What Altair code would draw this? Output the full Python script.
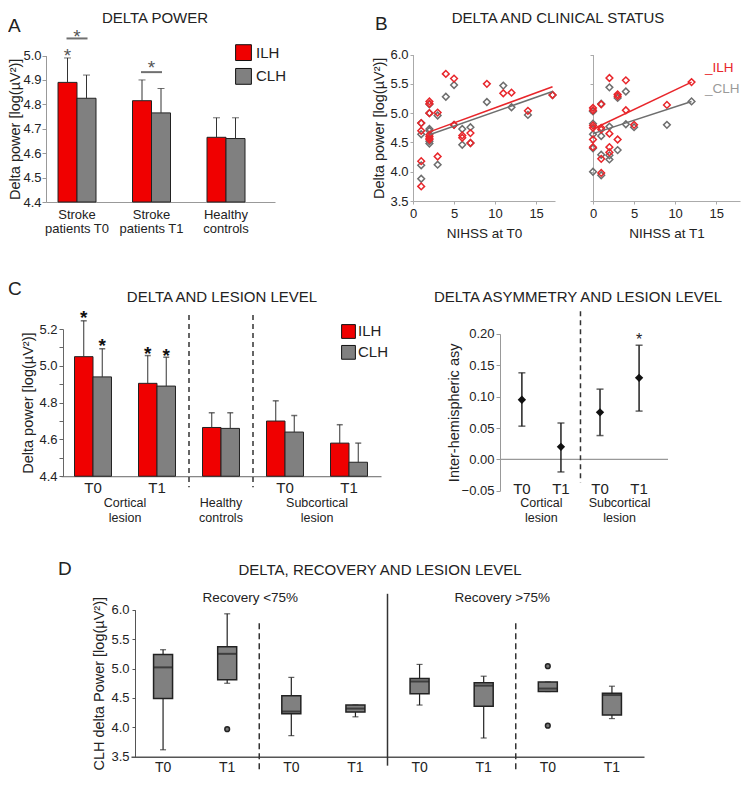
import altair as alt
import pandas as pd

# ======================= DATA =======================
# ---- Panel A : delta power ----
A_groups = ["Stroke|patients T0", "Stroke|patients T1", "Healthy|controls"]
hemis = ["ILH", "CLH"]
A_ilh_mean = [4.89, 4.815, 4.665]
A_ilh_upper = [4.99, 4.90, 4.745]
A_clh_mean = [4.825, 4.765, 4.66]
A_clh_upper = [4.92, 4.865, 4.745]
A_star_group = ["Stroke|patients T0"]
A_star_value = [5.02]
A_bracket_group = ["Stroke|patients T0", "Stroke|patients T1"]
A_bracket_value = [5.07, 4.932]
A_bracket_star = [5.097, 4.971]

# ---- Panel B : delta vs NIHSS ----
B0_ilh_nihss = [1, 1, 1, 1, 2, 2, 2, 2, 2, 2, 2, 3, 3, 4, 5, 5, 6, 6, 7, 7, 9, 11, 12, 14, 17]
B0_ilh_power = [4.83, 4.70, 4.18, 3.75, 5.20, 5.16, 5.00, 4.63, 4.60, 4.57, 4.55, 5.01, 4.26,
                5.67, 5.59, 4.80, 4.62, 4.58, 4.66, 4.49, 5.50, 5.34, 5.35, 5.04, 5.31]
B0_clh_nihss = [1, 1, 1, 1, 2, 2, 2, 2, 2, 2, 3, 3, 4, 5, 5, 6, 6, 7, 7, 9, 11, 12, 14, 17]
B0_clh_power = [4.83, 4.64, 4.11, 3.88, 5.15, 5.00, 4.73, 4.70, 4.52, 4.48, 4.96, 4.12, 5.28,
                5.48, 4.80, 4.73, 4.46, 4.76, 4.49, 5.19, 5.47, 5.10, 4.97, 5.31]
B1_ilh_nihss = [0, 0, 0, 0, 0, 0, 1, 1, 1, 1, 1, 2, 2, 2, 2, 3, 3, 3, 4, 4, 5, 9, 12]
B1_ilh_power = [5.09, 5.05, 4.79, 4.75, 4.55, 4.42, 5.15, 4.75, 4.72, 4.22, 3.98, 5.60, 4.65,
                4.42, 4.33, 5.32, 5.29, 4.55, 5.56, 5.05, 4.80, 5.14, 5.53]
B1_clh_nihss = [0, 0, 0, 0, 0, 1, 1, 1, 1, 2, 2, 2, 2, 3, 3, 4, 4, 5, 9, 12]
B1_clh_power = [5.03, 4.82, 4.64, 4.40, 4.00, 5.16, 4.61, 4.29, 3.94, 5.44, 4.77, 4.28, 4.21,
                5.26, 4.37, 5.37, 4.81, 4.76, 4.80, 5.20]
B0_fit_x = [2, 17]
B0_fit_ilh = [4.68, 5.45]
B0_fit_clh = [4.63, 5.37]
B1_fit_x = [0, 12]
B1_fit_ilh = [4.73, 5.53]
B1_fit_clh = [4.65, 5.20]

# ---- Panel C : lesion level ----
C_groups = ["Cortical T0", "Cortical T1", "Healthy controls", "Subcortical T0", "Subcortical T1"]
C_ilh_mean = [5.05, 4.905, 4.665, 4.70, 4.58]
C_ilh_upper = [5.245, 5.056, 4.745, 4.81, 4.68]
C_clh_mean = [4.94, 4.89, 4.66, 4.64, 4.476]
C_clh_upper = [5.093, 5.047, 4.745, 4.73, 4.58]
C_star_group = ["Cortical T0", "Cortical T0", "Cortical T1", "Cortical T1"]
C_star_hemi = ["ILH", "CLH", "ILH", "CLH"]
C_star_value = [5.29, 5.135, 5.09, 5.08]

C2_groups = ["Cortical T0", "Cortical T1", "Subcortical T0", "Subcortical T1"]
C2_asym = [0.095, 0.02, 0.075, 0.13]
C2_lower = [0.053, -0.02, 0.038, 0.077]
C2_upper = [0.138, 0.058, 0.112, 0.182]
C2_star_group = ["Subcortical T1"]
C2_star_value = [0.197]

# ---- Panel D : recovery and lesion level (CLH) ----
D_groups = ["<75% cortical T0", "<75% cortical T1", "<75% subcortical T0", "<75% subcortical T1",
            ">75% cortical T0", ">75% cortical T1", ">75% subcortical T0", ">75% subcortical T1"]
D_min = [3.62, 4.75, 3.86, 4.18, 4.38, 3.82, 4.61, 4.15]
D_q1 = [4.49, 4.81, 4.23, 4.26, 4.57, 4.36, 4.61, 4.21]
D_median = [5.02, 5.25, 4.27, 4.32, 4.78, 4.71, 4.66, 4.55]
D_q3 = [5.24, 5.37, 4.54, 4.38, 4.83, 4.76, 4.77, 4.58]
D_max = [5.32, 5.93, 4.85, 4.38, 5.07, 4.87, 4.77, 4.70]
D_out_group = [D_groups[1], D_groups[6], D_groups[6]]
D_out_value = [3.97, 5.04, 4.03]

# ======================= LAYOUT / STYLE =======================
PADL = 8
OX = 8 + PADL          # page x of the plot origin
W, H = 726, 770        # svg = 734 x 770, fits the page without scaling
VS = 0.97              # slight vertical squeeze so the whole figure fits
FONT = "Liberation Sans"
TXT = "#222222"
RED = "#f00000"
GRAY = "#808080"
SRED = "#e8262b"
SGRAY = "#6e6e6e"


def px(v):
    return v - OX


def py(v):
    return (v - 4) * VS


def xbottom(page_y, **kw):
    base = dict(orient="bottom", offset=py(page_y) - H, grid=False, title=None, labelAngle=0)
    base.update(kw)
    return alt.Axis(**base)


def yleft(page_x, **kw):
    base = dict(orient="left", offset=-px(page_x), grid=False)
    base.update(kw)
    return alt.Axis(**base)


def ydat(v, scale):
    return alt.YDatum(datum=v, scale=scale, axis=None, type="quantitative")


def text_at(text, x, y, size=15, align="center", color=TXT, weight="normal"):
    return alt.Chart(pd.DataFrame({"t": [text]})).mark_text(
        fontSize=size, align=align, baseline="middle", color=color, fontWeight=weight, font=FONT
    ).encode(text="t:N", x=alt.value(px(x)), y=alt.value(py(y)))


# Every layer sits directly in one top-level layer with independent scales;
# the layers of a panel use identical explicit scales, so they line up.

# ======================= PANEL A =======================
dfA = pd.DataFrame({"group": A_groups * 2, "hemi": ["ILH"] * 3 + ["CLH"] * 3,
                    "mean": A_ilh_mean + A_clh_mean, "upper": A_ilh_upper + A_clh_upper})
sxA = alt.Scale(type="band", domain=A_groups, range=[px(46), px(275)], paddingInner=0.49,
                paddingOuter=0.282, align=0.286)
syA = alt.Scale(domain=[4.4, 5.0], range=[py(204), py(53)], nice=False, zero=False)
soA = alt.Scale(type="band", domain=hemis, paddingInner=0, paddingOuter=0)
scol_bar = alt.Scale(domain=hemis, range=[RED, GRAY])

axA_x = xbottom(204, labelExpr="split(datum.label, '|')", ticks=False, domainColor="#999",
                labelFontSize=13, labelPadding=6, labelLineHeight=14)
axA_y = yleft(46, values=[4.4, 4.5, 4.6, 4.7, 4.8, 4.9, 5.0], format=".1f", tickSize=4,
              domainColor="#999", tickColor="#999", labelFontSize=13, labelPadding=1,
              title="Delta power [log(µV²)]", titleFontSize=14.5, titlePadding=0)


def xA(axis=None, **kw):
    return alt.X("group:N", scale=sxA, axis=axis, **kw)


def yA(field, axis=None):
    return alt.Y(field, scale=syA, axis=axis)


oA = alt.XOffset("hemi:N", scale=soA)

a_bars = alt.Chart(dfA).mark_bar(stroke="#222", strokeWidth=1).encode(
    x=xA(axA_x), xOffset=oA, y=yA("mean:Q", axA_y), y2=alt.datum(4.4),
    color=alt.Color("hemi:N", scale=scol_bar, legend=None),
)
a_err = alt.Chart(dfA).mark_rule(color="#333", strokeWidth=1).encode(
    x=xA(), xOffset=oA, y=yA("mean:Q"), y2="upper:Q")
a_cap = alt.Chart(dfA).mark_tick(color="#333", thickness=1, size=7).encode(
    x=xA(), xOffset=oA, y=yA("upper:Q"))
dfA_star = pd.DataFrame({"group": A_star_group, "hemi": ["ILH"], "v": A_star_value})
a_star = alt.Chart(dfA_star).mark_text(text="*", fontSize=19, color="#555", dy=5).encode(
    x=xA(), xOffset=oA, y=yA("v:Q"))
dfA_br = pd.DataFrame({"group": A_bracket_group, "v": A_bracket_value, "s": A_bracket_star})
a_br = alt.Chart(dfA_br).mark_tick(color="#333", thickness=2, size=21).encode(x=xA(), y=yA("v:Q"))
a_brs = alt.Chart(dfA_br).mark_text(text="*", fontSize=19, color="#555", dy=5).encode(x=xA(), y=yA("s:Q"))

dfLeg = pd.DataFrame({"hemi": hemis})
sLegA = alt.Scale(type="point", domain=hemis, range=[py(50), py(74.5)], padding=0)
legA_sq = alt.Chart(dfLeg).mark_square(size=250, stroke="#111", strokeWidth=1, opacity=1).encode(
    x=alt.value(px(243.5)), y=alt.Y("hemi:N", scale=sLegA, axis=None),
    color=alt.Color("hemi:N", scale=scol_bar, legend=None))
legA_tx = alt.Chart(dfLeg).mark_text(fontSize=15, align="left", baseline="middle", color=TXT).encode(
    x=alt.value(px(256)), y=alt.Y("hemi:N", scale=sLegA, axis=None), text="hemi:N")

layersA = [a_bars, a_err, a_cap, a_star, a_br, a_brs, legA_sq, legA_tx]

# ======================= PANEL B =======================
scol_sc = alt.Scale(domain=hemis, range=[SRED, SGRAY])


def scatter_panel(ilh_x, ilh_y, clh_x, clh_y, fit_x, fit_ilh, fit_clh, x_left, x_right, xmax, title, show_y):
    df = pd.DataFrame({"nihss": clh_x + ilh_x, "power": clh_y + ilh_y,
                       "hemi": ["CLH"] * len(clh_x) + ["ILH"] * len(ilh_x)})
    dfl = pd.DataFrame({"nihss": fit_x + fit_x, "power": fit_clh + fit_ilh,
                        "hemi": ["CLH"] * len(fit_x) + ["ILH"] * len(fit_x)})
    sx = alt.Scale(domain=[0, xmax], range=[px(x_left), px(x_right)], nice=False, zero=False)
    sy = alt.Scale(domain=[3.5, 6.0], range=[py(203), py(52)], nice=False, zero=False)
    ax_x = xbottom(203, values=[0, 5, 10, 15], tickSize=3, domainColor="#aaa", tickColor="#aaa",
                   labelFontSize=13, labelPadding=3, labelFlush=False, title=title,
                   titleFontSize=13.5, titlePadding=6)
    if show_y:
        ax_y = yleft(x_left, values=[3.5, 4.0, 4.5, 5.0, 5.5, 6.0], format=".1f", tickSize=3,
                     domainColor="#aaa", tickColor="#aaa", labelFontSize=13, labelPadding=2,
                     title="Delta power [log(µV²)]", titleFontSize=14.5, titlePadding=3)
    else:
        ax_y = yleft(x_left, values=[3.5, 4.0, 4.5, 5.0, 5.5, 6.0], labels=False, tickSize=3,
                     domainColor="#aaa", tickColor="#aaa", title=None)
    pts = alt.Chart(df).mark_point(shape="diamond", filled=False, size=45, strokeWidth=1.5, opacity=1).encode(
        x=alt.X("nihss:Q", scale=sx, axis=ax_x),
        y=alt.Y("power:Q", scale=sy, axis=ax_y),
        color=alt.Color("hemi:N", scale=scol_sc, legend=None),
    )
    lines = alt.Chart(dfl).mark_line(strokeWidth=1.5).encode(
        x=alt.X("nihss:Q", scale=sx, axis=None),
        y=alt.Y("power:Q", scale=sy, axis=None),
        color=alt.Color("hemi:N", scale=scol_sc, legend=None),
    )
    return [pts, lines]


layersB = scatter_panel(B0_ilh_nihss, B0_ilh_power, B0_clh_nihss, B0_clh_power,
                        B0_fit_x, B0_fit_ilh, B0_fit_clh, 413, 555, 17.3, "NIHSS at T0", True)
layersB += scatter_panel(B1_ilh_nihss, B1_ilh_power, B1_clh_nihss, B1_clh_power,
                         B1_fit_x, B1_fit_ilh, B1_fit_clh, 593, 740, 17.9, "NIHSS at T1", False)

# ======================= PANEL C (left) =======================
dfC = pd.DataFrame({"group": C_groups * 2, "hemi": ["ILH"] * 5 + ["CLH"] * 5,
                    "mean": C_ilh_mean + C_clh_mean, "upper": C_ilh_upper + C_clh_upper})
sxC = alt.Scale(type="band", domain=C_groups, range=[px(61), px(381)], paddingInner=0, paddingOuter=0)
syC = alt.Scale(domain=[4.4, 5.2], range=[py(486.7), py(335)], nice=False, zero=False)
soC = alt.Scale(type="band", domain=hemis, paddingInner=0, paddingOuter=0.73)
axC_x = xbottom(486.7, labelExpr="indexof(datum.value, 'Healthy') >= 0 ? '' : slice(datum.value, -2)",
                ticks=False, domainColor="#666", labelFontSize=15, labelPadding=4)
axC_y = yleft(63, values=[4.4, 4.5, 4.6, 4.7, 4.8, 4.9, 5.0, 5.1, 5.2],
              labelExpr="round(datum.value * 10) % 2 == 0 ? format(datum.value, '.1f') : ''",
              tickSize=4, domainColor="#666", tickColor="#666", labelFontSize=13, labelPadding=2,
              title="Delta power [log(µV²)]", titleFontSize=14.5, titlePadding=3)


def xC(axis=None, **kw):
    return alt.X("group:N", scale=sxC, axis=axis, **kw)


def yC(field, axis=None):
    return alt.Y(field, scale=syC, axis=axis)


oC = alt.XOffset("hemi:N", scale=soC)

c_bars = alt.Chart(dfC).mark_bar(stroke="#222", strokeWidth=1).encode(
    x=xC(axC_x), xOffset=oC, y=yC("mean:Q", axC_y), y2=alt.datum(4.4),
    color=alt.Color("hemi:N", scale=scol_bar, legend=None),
)
c_err = alt.Chart(dfC).mark_rule(color="#333", strokeWidth=1).encode(
    x=xC(), xOffset=oC, y=yC("mean:Q"), y2="upper:Q")
c_cap = alt.Chart(dfC).mark_tick(color="#333", thickness=1.5, size=6).encode(
    x=xC(), xOffset=oC, y=yC("upper:Q"))
dfC_star = pd.DataFrame({"group": C_star_group, "hemi": C_star_hemi, "v": C_star_value})
c_star = alt.Chart(dfC_star).mark_text(text="*", fontSize=19, fontWeight="bold", color="#111", dy=5).encode(
    x=xC(), xOffset=oC, y=yC("v:Q"))
dfC_sep = pd.DataFrame({"group": ["Healthy controls", "Subcortical T0"]})
c_sep = alt.Chart(dfC_sep).mark_rule(color="#333", strokeWidth=1.5, strokeDash=[5, 4]).encode(
    x=xC(bandPosition=0), y=ydat(5.277, syC), y2=alt.Y2Datum(datum=4.34))
dfC_lab = pd.DataFrame({"group": ["Cortical T0", "Subcortical T0"], "t": ["Cortical|lesion", "Subcortical|lesion"]})
c_lab = alt.Chart(dfC_lab).mark_text(fontSize=12.5, baseline="top", lineBreak="|", lineHeight=15, color=TXT).encode(
    x=xC(bandPosition=1.0), y=alt.value(py(508)), text="t:N")
dfC_lab2 = pd.DataFrame({"group": ["Healthy controls"], "t": ["Healthy|controls"]})
c_lab2 = alt.Chart(dfC_lab2).mark_text(fontSize=12.5, baseline="top", lineBreak="|", lineHeight=15, color=TXT).encode(
    x=xC(), y=alt.value(py(508)), text="t:N")

sLegC = alt.Scale(type="point", domain=hemis, range=[py(337.5), py(359)], padding=0)
legC_sq = alt.Chart(dfLeg).mark_square(size=190, stroke="#111", strokeWidth=1, opacity=1).encode(
    x=alt.value(px(348.5)), y=alt.Y("hemi:N", scale=sLegC, axis=None),
    color=alt.Color("hemi:N", scale=scol_bar, legend=None))
legC_tx = alt.Chart(dfLeg).mark_text(fontSize=15, align="left", baseline="middle", color=TXT).encode(
    x=alt.value(px(358)), y=alt.Y("hemi:N", scale=sLegC, axis=None), text="hemi:N")

layersC1 = [c_bars, c_err, c_cap, c_star, c_sep, c_lab, c_lab2, legC_sq, legC_tx]

# ======================= PANEL C (right) =======================
dfC2 = pd.DataFrame({"group": C2_groups, "v": C2_asym, "lo": C2_lower, "hi": C2_upper})
sxC2 = alt.Scale(type="band", domain=C2_groups, range=[px(500), px(668)], paddingInner=0,
                 paddingOuter=0.15, align=0.2)
syC2 = alt.Scale(domain=[-0.05, 0.2], range=[py(501.7), py(340)], nice=False, zero=False)
axC2_x = xbottom(490, labelExpr="slice(datum.value, -2)", ticks=False, domain=False,
                 labelFontSize=15, labelPadding=2)
axC2_y = yleft(500, values=[-0.05, 0.0, 0.05, 0.10, 0.15, 0.20], format=".2f", tickSize=4,
               domainColor="#999", tickColor="#999", labelFontSize=13, labelPadding=2,
               title="Inter-hemispheric asy", titleFontSize=14.5, titlePadding=0)


def xC2(axis=None, **kw):
    return alt.X("group:N", scale=sxC2, axis=axis, **kw)


def yC2(field, axis=None):
    return alt.Y(field, scale=syC2, axis=axis)


c2_zero = alt.Chart(pd.DataFrame({"z": [0.0]})).mark_rule(color="#999", strokeWidth=1.2).encode(
    x=alt.value(px(500)), x2=alt.value(px(668)), y=yC2("z:Q"))
c2_err = alt.Chart(dfC2).mark_rule(color="#222", strokeWidth=1.5).encode(
    x=xC2(axC2_x), y=yC2("lo:Q", axC2_y), y2="hi:Q")
c2_cap_lo = alt.Chart(dfC2).mark_tick(color="#222", thickness=1.5, size=7).encode(x=xC2(), y=yC2("lo:Q"))
c2_cap_hi = alt.Chart(dfC2).mark_tick(color="#222", thickness=1.5, size=7).encode(x=xC2(), y=yC2("hi:Q"))
c2_pts = alt.Chart(dfC2).mark_point(shape="diamond", filled=True, size=70, color="#111", opacity=1).encode(
    x=xC2(), y=yC2("v:Q"))
c2_sep = alt.Chart(pd.DataFrame({"group": ["Subcortical T0"]})).mark_rule(
    color="#333", strokeWidth=1.5, strokeDash=[5, 4]).encode(
    x=xC2(bandPosition=0), y=ydat(0.236, syC2), y2=alt.Y2Datum(datum=-0.037))
dfC2_star = pd.DataFrame({"group": C2_star_group, "v": C2_star_value})
c2_star = alt.Chart(dfC2_star).mark_text(text="*", fontSize=16, color="#222", dy=4).encode(
    x=xC2(), y=yC2("v:Q"))
dfC2_lab = pd.DataFrame({"group": ["Cortical T0", "Subcortical T0"], "t": ["Cortical|lesion", "Subcortical|lesion"]})
c2_lab = alt.Chart(dfC2_lab).mark_text(fontSize=12.5, baseline="top", lineBreak="|", lineHeight=15, color=TXT).encode(
    x=xC2(bandPosition=1.0), y=alt.value(py(508)), text="t:N")

layersC2 = [c2_zero, c2_err, c2_cap_lo, c2_cap_hi, c2_pts, c2_sep, c2_star, c2_lab]

# ======================= PANEL D =======================
dfD = pd.DataFrame({"group": D_groups, "lo": D_min, "q1": D_q1, "med": D_median, "q3": D_q3, "hi": D_max})
sxD = alt.Scale(type="band", domain=D_groups, range=[px(131), px(644)], paddingInner=0, paddingOuter=0)
syD = alt.Scale(domain=[3.5, 6.0], range=[py(776), py(624.3)], nice=False, zero=False)
axD_x = xbottom(776, labelExpr="slice(datum.value, -2)", ticks=False, domainColor="#555", domainWidth=1.5,
                labelFontSize=14, labelPadding=4)
axD_y = yleft(135, values=[3.5, 4.0, 4.5, 5.0, 5.5, 6.0], format=".1f", tickSize=3, domainColor="#555",
              tickColor="#555", labelFontSize=13, labelPadding=3,
              title="CLH delta Power [log(µV²)]", titleFontSize=14.5, titlePadding=4)


def xD(axis=None, **kw):
    return alt.X("group:N", scale=sxD, axis=axis, **kw)


def yD(field, axis=None):
    return alt.Y(field, scale=syD, axis=axis)


d_whisk = alt.Chart(dfD).mark_rule(color="#222", strokeWidth=1.2).encode(
    x=xD(axD_x), y=yD("lo:Q", axD_y), y2="hi:Q")
d_cap_lo = alt.Chart(dfD).mark_tick(color="#222", thickness=1.2, size=6).encode(x=xD(), y=yD("lo:Q"))
d_cap_hi = alt.Chart(dfD).mark_tick(color="#222", thickness=1.2, size=6).encode(x=xD(), y=yD("hi:Q"))
d_box = alt.Chart(dfD).mark_bar(size=19, color=GRAY, stroke="#222", strokeWidth=1.5).encode(
    x=xD(), y=yD("q1:Q"), y2="q3:Q")
d_med = alt.Chart(dfD).mark_tick(color="#222", thickness=2, size=19).encode(x=xD(), y=yD("med:Q"))
dfD_out = pd.DataFrame({"group": D_out_group, "v": D_out_value})
d_out = alt.Chart(dfD_out).mark_point(shape="circle", filled=True, size=22, fill="#777", stroke="#222",
                                      strokeWidth=1.5, opacity=1).encode(x=xD(), y=yD("v:Q"))
d_dash = alt.Chart(pd.DataFrame({"group": [D_groups[2], D_groups[6]]})).mark_rule(
    color="#333", strokeWidth=1.5, strokeDash=[6, 4]).encode(
    x=xD(bandPosition=0), y=ydat(5.77, syD), y2=alt.Y2Datum(datum=3.22))
d_solid = alt.Chart(pd.DataFrame({"group": [D_groups[4]]})).mark_rule(color="#333", strokeWidth=1.5).encode(
    x=xD(bandPosition=0), y=ydat(6.27, syD), y2=alt.Y2Datum(datum=3.35))
d_rec1 = alt.Chart(pd.DataFrame({"group": [D_groups[1]], "t": ["Recovery <75%"], "v": [6.2]})).mark_text(
    fontSize=13.5, color=TXT, baseline="middle").encode(
    x=xD(bandPosition=0.86), y=yD("v:Q"), text="t:N")
d_rec2 = alt.Chart(pd.DataFrame({"group": [D_groups[5]], "t": ["Recovery >75%"], "v": [6.2]})).mark_text(
    fontSize=13.5, color=TXT, baseline="middle").encode(
    x=xD(bandPosition=0.79), y=yD("v:Q"), text="t:N")

layersD = [d_whisk, d_cap_lo, d_cap_hi, d_box, d_med, d_out, d_dash, d_solid, d_rec1, d_rec2]

# ======================= TITLES / LETTERS / B legend =======================
texts = [
    text_at("A", 8, 23, size=19, align="left"),
    text_at("DELTA POWER", 155, 14, size=15),
    text_at("B", 375, 21, size=19, align="left"),
    text_at("DELTA  AND CLINICAL STATUS", 558, 14, size=15),
    text_at("_ILH", 705, 66, size=13.5, align="left", color=SRED),
    text_at("_CLH", 705, 88, size=13.5, align="left", color="#9a9a9a"),
    text_at("C", 8, 294, size=19, align="left"),
    text_at("DELTA AND LESION LEVEL", 222, 302, size=15),
    text_at("DELTA  ASYMMETRY AND LESION LEVEL", 578, 302, size=15),
    text_at("D", 58, 582, size=19, align="left"),
    text_at("DELTA, RECOVERY AND LESION LEVEL", 380, 583, size=15),
]

chart = alt.layer(
    *layersA, *layersB, *layersC1, *layersC2, *layersD, *texts
).resolve_scale(
    x="independent", y="independent", color="independent", xOffset="independent"
).properties(
    width=W, height=H,
    padding={"left": PADL, "top": 0, "right": 0, "bottom": 0},
    autosize=alt.AutoSizeParams(type="none"),
).configure_view(
    stroke=None
).configure_axis(
    labelFont=FONT, titleFont=FONT, labelColor=TXT, titleColor=TXT, titleFontWeight="normal", grid=False
).configure_text(
    font=FONT
)

chart.save("out.html", embed_options={"renderer": "svg", "actions": False})
